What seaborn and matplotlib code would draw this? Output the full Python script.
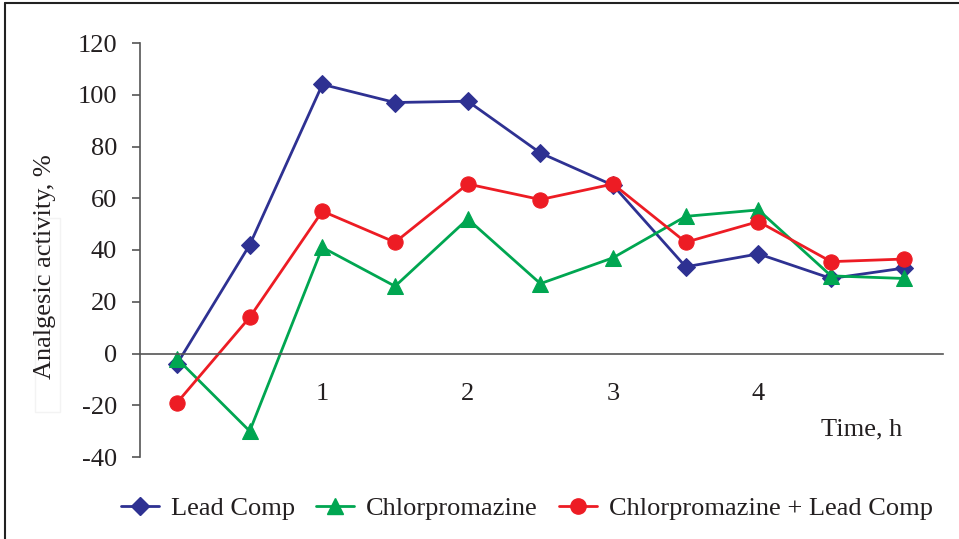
import matplotlib
matplotlib.use("Agg")
import matplotlib.pyplot as plt
import seaborn as sns
import pandas as pd
from matplotlib.lines import Line2D
from matplotlib.patches import Rectangle

time_h = [0, 0.5, 1, 1.5, 2, 2.5, 3, 3.5, 4, 4.5, 5]
lead_comp = [-4, 42, 104, 97, 97.5, 77.5, 65, 33.5, 38.5, 29, 33]
chlorpromazine = [-2, -30, 41, 26, 52, 27, 37, 53, 55.5, 30, 29]
combo = [-19, 14, 55, 43, 65.5, 59.5, 65.5, 43, 51, 35.5, 36.5]
series_names = ["Lead Comp", "Chlorpromazine", "Chlorpromazine + Lead Comp"]
x_tick_values = [1, 2, 3, 4]
x_tick_labels = ["1", "2", "3", "4"]
y_ticks = [-40, -20, 0, 20, 40, 60, 80, 100, 120]

colors = ["#2E3192", "#00A651", "#ED1C24"]
markers = ["D", "^", "o"]
msizes = [9, 11, 11]

df = pd.DataFrame({
    "time": time_h * 3,
    "value": lead_comp + chlorpromazine + combo,
    "series": [series_names[0]] * len(time_h) + [series_names[1]] * len(time_h) + [series_names[2]] * len(time_h),
})

sns.set_style("white")
plt.rcParams["font.family"] = ["Liberation Serif", "DejaVu Serif"]

fig = plt.figure(figsize=(9.59, 5.39), dpi=100)
ax = fig.add_axes([140 / 959, 1 - 457 / 539, 803 / 959, 414 / 539])

for name, c, m, ms in zip(series_names, colors, markers, msizes):
    sub = df[df["series"] == name]
    sns.lineplot(data=sub, x="time", y="value", color=c, marker=m, markersize=ms,
                 markeredgecolor=c, linewidth=2.0, ax=ax, legend=False)

ax.set_xlim(-0.255, 5.27)
ax.set_ylim(-40, 120)

for s in ["top", "right"]:
    ax.spines[s].set_visible(False)
ax.spines["left"].set_color("#555555")
ax.spines["left"].set_linewidth(1.2)
ax.spines["bottom"].set_position(("data", 0))
ax.spines["bottom"].set_color("#555555")
ax.spines["bottom"].set_linewidth(1.2)

ax.set_yticks(y_ticks)
ax.set_yticklabels([str(v) for v in y_ticks])
ax.set_xticks(x_tick_values)
ax.set_xticklabels(x_tick_labels)
ax.tick_params(axis="y", direction="out", length=6, width=1.2, color="#555555", pad=10.5,
               left=True, labelsize=19, labelcolor="#231F20")
ax.tick_params(axis="x", length=0, pad=21, bottom=True, labelsize=19, labelcolor="#231F20")
ax.set_xlabel("")
ax.set_ylabel("")

fig.text(45 / 959, 1 - 267 / 539, "Analgesic activity, %", rotation=90, fontsize=19,
         ha="center", va="center", color="#231F20")
fig.patches.append(Rectangle((35 / 959, 1 - 412 / 539), 25 / 959, 194 / 539,
                             transform=fig.transFigure, fill=False, edgecolor="#f3f3f3", linewidth=1))
ax.text(4.71, -29.5, "Time, h", fontsize=19, ha="center", va="center", color="#231F20")

handles = [Line2D([], [], color=c, marker=m, markersize=ms, linewidth=2.0) for c, m, ms in zip(colors, markers, msizes)]
fig.legend(handles, series_names, loc="center", bbox_to_anchor=(527 / 959, 1 - 508 / 539),
           ncol=3, frameon=False, fontsize=19, handlelength=1.45, handletextpad=0.45,
           columnspacing=0.8, labelcolor="#231F20")

fig.add_artist(Line2D([5 / 959, 5 / 959], [0, 1 - 3 / 539], transform=fig.transFigure, color="#222222", linewidth=1.5))
fig.add_artist(Line2D([5 / 959, 1], [1 - 3 / 539, 1 - 3 / 539], transform=fig.transFigure, color="#222222", linewidth=1.5))

fig.savefig("out.png", dpi=100)
